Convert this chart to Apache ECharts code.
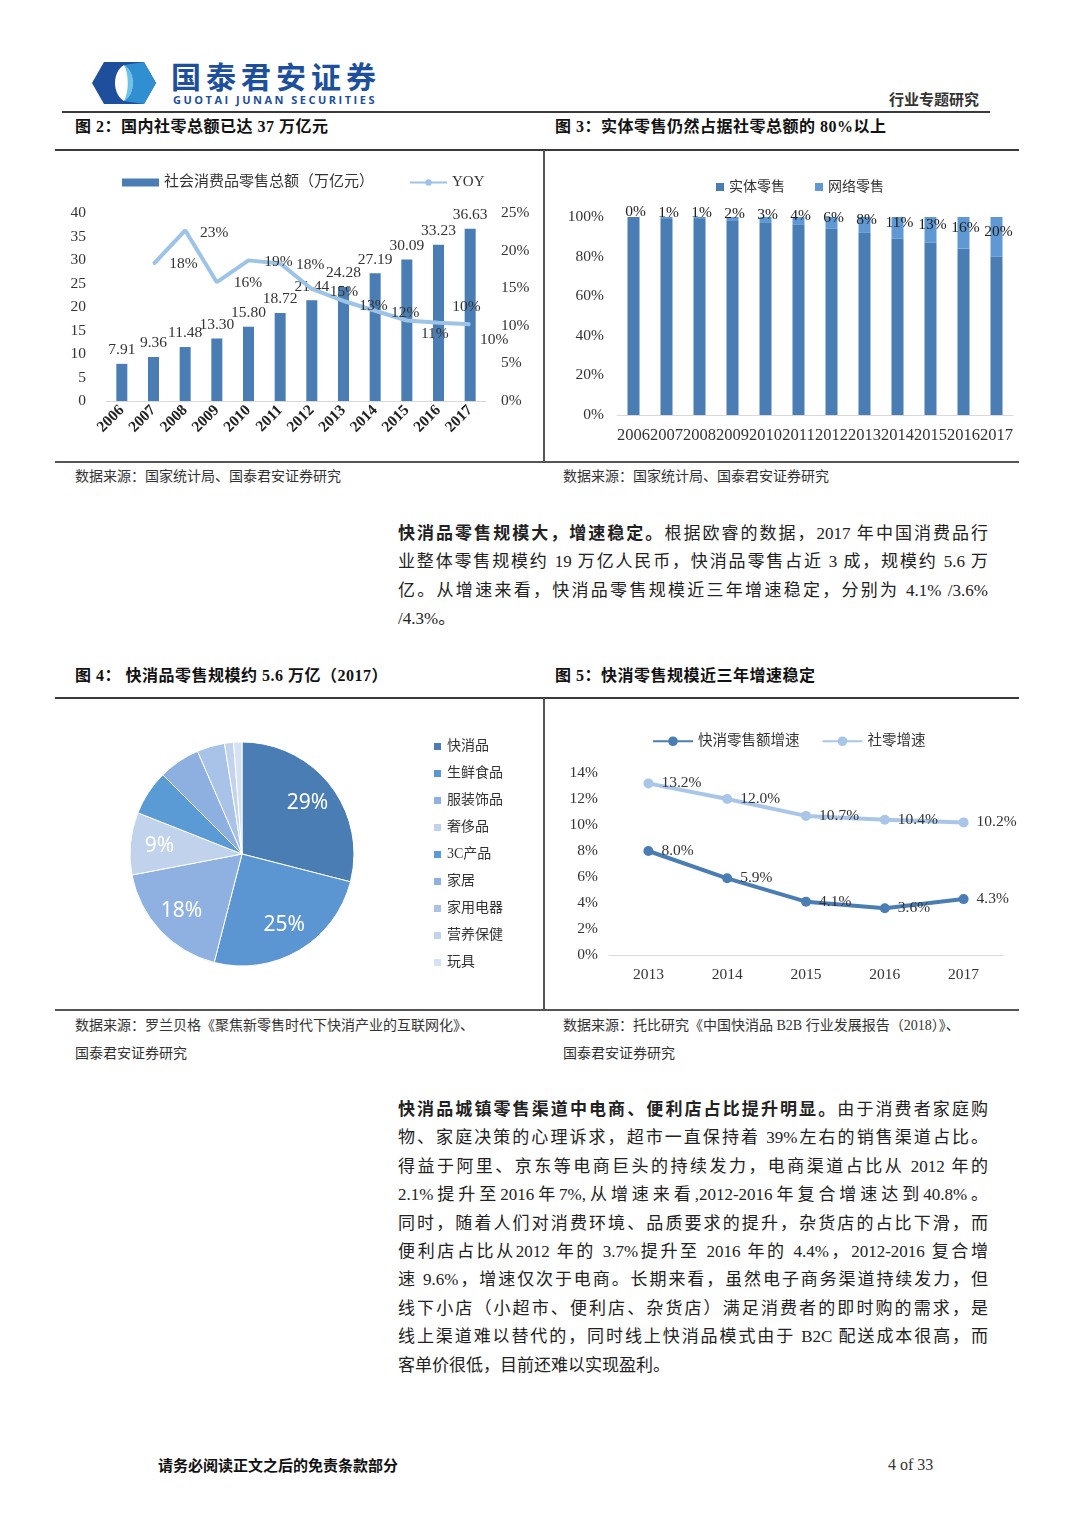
<!DOCTYPE html>
<html><head><meta charset="utf-8">
<script src="https://cdn.jsdelivr.net/npm/echarts@6/dist/echarts.min.js"></script>
<style>
html,body{margin:0;padding:0;background:#fff;}
body{width:1080px;height:1527px;position:relative;overflow:hidden;font-family:'Liberation Serif','Noto Sans CJK SC',serif;color:#222;}
.hl{position:absolute;background:#3a3a3a;}
.title{position:absolute;font-weight:bold;font-size:16px;line-height:20px;color:#111;white-space:nowrap;letter-spacing:0.5px;}
.src{position:absolute;font-size:14px;line-height:18px;color:#333;white-space:nowrap;}
.para{position:absolute;left:398px;width:590px;font-size:17px;color:#222;}
.para div{height:28.4px;line-height:28.4px;text-align:justify;text-align-last:justify;white-space:nowrap;}
.para div.last{text-align-last:left;}
.chart{position:absolute;}
</style></head>
<body>
<!-- header -->
<svg style="position:absolute;left:90px;top:60px" width="68" height="46" viewBox="0 0 68 46">
  <path d="M14,2 L54,2 L66,23 L54,44 L14,44 L2,23 Z" fill="#1d4f9c"/>
  <path d="M34,5 C22,12 22,34 34,41 C46,34 46,12 34,5 Z" fill="#ffffff"/>
  <path d="M34,5 L54,2 L66,23 L54,44 L34,41 C46,34 46,12 34,5 Z" fill="#2f8fd0"/>
  <path d="M34,5 C46,12 46,34 34,41 C39,32 39,14 34,5 Z" fill="#6cc3ea"/>
</svg>
<div style="position:absolute;left:171px;top:59px;font-family:'Noto Sans CJK SC';font-weight:bold;font-size:30px;line-height:32px;color:#1d4f9c;letter-spacing:5px;white-space:nowrap;">国泰君安证券</div>
<div style="position:absolute;left:173px;top:94px;font-family:'Open Sans','Noto Sans';font-weight:bold;font-size:11px;line-height:12px;color:#1d4f9c;letter-spacing:2.5px;white-space:nowrap;">GUOTAI JUNAN SECURITIES</div>
<div style="position:absolute;left:889px;top:89px;font-family:'Noto Sans CJK SC';font-weight:bold;font-size:15px;line-height:20px;color:#333;white-space:nowrap;">行业专题研究</div>
<div class="hl" style="left:62px;top:111px;width:928px;height:2px;"></div>

<!-- figures 2/3 -->
<div class="title" style="left:75px;top:117px;">图 2：国内社零总额已达 37 万亿元</div>
<div class="title" style="left:555px;top:117px;">图 3：实体零售仍然占据社零总额的 80%以上</div>
<div class="hl" style="left:55px;top:149px;width:964px;height:2px;"></div>
<div class="hl" style="left:543px;top:150px;width:1.5px;height:312px;background:#555;"></div>
<div class="hl" style="left:55px;top:461px;width:964px;height:1.5px;background:#555;"></div>
<div id="c1" class="chart" style="left:55px;top:152px;width:488px;height:308px;"></div>
<div id="c2" class="chart" style="left:545px;top:152px;width:475px;height:308px;"></div>
<div class="src" style="left:75px;top:468px;">数据来源：国家统计局、国泰君安证券研究</div>
<div class="src" style="left:563px;top:468px;">数据来源：国家统计局、国泰君安证券研究</div>

<div class="para" style="top:520px;">
<div><b>快消品零售规模大，增速稳定。</b>根据欧睿的数据，2017 年中国消费品行</div>
<div>业整体零售规模约 19 万亿人民币，快消品零售占近 3 成，规模约 5.6 万</div>
<div>亿。从增速来看，快消品零售规模近三年增速稳定，分别为 4.1% /3.6%</div>
<div class="last">/4.3%。</div>
</div>

<!-- figures 4/5 -->
<div class="title" style="left:75px;top:666px;">图 4：&nbsp;快消品零售规模约 5.6 万亿（2017）</div>
<div class="title" style="left:555px;top:666px;">图 5：快消零售规模近三年增速稳定</div>
<div class="hl" style="left:55px;top:697px;width:964px;height:2px;"></div>
<div class="hl" style="left:543px;top:698px;width:1.5px;height:312px;background:#555;"></div>
<div class="hl" style="left:55px;top:1009px;width:964px;height:1.5px;background:#555;"></div>
<div id="c3" class="chart" style="left:55px;top:700px;width:488px;height:308px;"></div>
<div id="c4" class="chart" style="left:545px;top:700px;width:475px;height:308px;"></div>
<div class="src" style="left:75px;top:1017px;">数据来源：罗兰贝格《聚焦新零售时代下快消产业的互联网化》、</div>
<div class="src" style="left:75px;top:1045px;">国泰君安证券研究</div>
<div class="src" style="left:563px;top:1017px;">数据来源：托比研究《中国快消品 B2B 行业发展报告（2018）》、</div>
<div class="src" style="left:563px;top:1045px;">国泰君安证券研究</div>

<div class="para" style="top:1096px;">
<div><b>快消品城镇零售渠道中电商、便利店占比提升明显。</b>由于消费者家庭购</div>
<div>物、家庭决策的心理诉求，超市一直保持着 39%左右的销售渠道占比。</div>
<div>得益于阿里、京东等电商巨头的持续发力，电商渠道占比从 2012 年的</div>
<div>2.1%提升至2016年7%,从增速来看,2012-2016年复合增速达到40.8%。</div>
<div>同时，随着人们对消费环境、品质要求的提升，杂货店的占比下滑，而</div>
<div>便利店占比从2012 年的 3.7%提升至 2016 年的 4.4%，2012-2016 复合增</div>
<div>速 9.6%，增速仅次于电商。长期来看，虽然电子商务渠道持续发力，但</div>
<div>线下小店（小超市、便利店、杂货店）满足消费者的即时购的需求，是</div>
<div>线上渠道难以替代的，同时线上快消品模式由于 B2C 配送成本很高，而</div>
<div class="last">客单价很低，目前还难以实现盈利。</div>
</div>

<div style="position:absolute;left:158px;top:1455px;font-family:'Noto Sans CJK SC';font-weight:bold;font-size:15px;line-height:20px;color:#111;white-space:nowrap;">请务必阅读正文之后的免责条款部分</div>
<div style="position:absolute;left:888px;top:1455px;font-size:16px;line-height:20px;color:#333;white-space:nowrap;">4 of 33</div>

<script>
// ---------- data ----------
const years1 = ['2006','2007','2008','2009','2010','2011','2012','2013','2014','2015','2016','2017'];
const retailTotal = [7.91, 9.36, 11.48, 13.30, 15.80, 18.72, 21.44, 24.28, 27.19, 30.09, 33.23, 36.63];
const retailYoy = [null, 18.2, 22.7, 15.8, 18.7, 18.3, 14.9, 13.3, 12.0, 10.7, 10.4, 10.2];
const years2 = ['2006','2007','2008','2009','2010','2011','2012','2013','2014','2015','2016','2017'];
const physicalShare = [100, 99, 99, 98, 97, 96, 94, 92, 89, 87, 84, 80];
const onlineShare = [0, 1, 1, 2, 3, 4, 6, 8, 11, 13, 16, 20];
const pieNames = ['快消品','生鲜食品','服装饰品','奢侈品','3C产品','家居','家用电器','营养保健','玩具'];
const pieValues = [29, 25, 18, 9, 6.5, 6, 4, 1.3, 1.2];
const years4 = ['2013','2014','2015','2016','2017'];
const fmcgGrowth = [8.0, 5.9, 4.1, 3.6, 4.3];
const retailGrowth = [13.2, 12.0, 10.7, 10.4, 10.2];
const yTicks1 = {min:0, max:40, interval:5};
const yTicks1r = {min:0, max:25, interval:5};

// ---------- styles ----------
const F = "'Liberation Serif','Noto Sans CJK SC',serif";
const dark = '#4a7db3';
const light = '#9dc3e6';
const yoyLabelOffsets = [[0,0],[30,0],[29,3],[31,1],[30,2],[30,2],[32,3],[30,5],[30,2],[28,13],[28,-16],[24,16]];
const pieColors = ['#4a7db3','#5b95d2','#8eb1e1','#c0d2ec','#5b9bd5','#8db0e0','#a9c3e8','#c2d3ee','#d6e1f3'];
const axisText = {fontSize:15.5, color:'#333', fontFamily:F};

// ---------- chart 1 ----------
echarts.init(document.getElementById('c1')).setOption({
  animation:false,
  legend:{left:62, top:18, itemGap:35, itemWidth:37, itemHeight:8,
    textStyle:{fontSize:15, color:'#333', fontFamily:F},
    data:[{name:'社会消费品零售总额（万亿元）', icon:'rect'}, {name:'YOY'}]},
  grid:{left:51, right:57, top:61, bottom:59},
  xAxis:{type:'category', data:years1,
    axisLine:{lineStyle:{color:'#d9d9d9', width:1}}, axisTick:{show:false},
    axisLabel:{rotate:45, interval:0, fontWeight:'bold', fontSize:15.5, color:'#222', fontFamily:F, margin:7}},
  yAxis:[
    {type:'value', min:yTicks1.min, max:yTicks1.max, interval:yTicks1.interval, splitLine:{show:false},
      axisLabel:Object.assign({margin:20}, axisText)},
    {type:'value', min:yTicks1r.min, max:yTicks1r.max, interval:yTicks1r.interval, splitLine:{show:false},
      axisLabel:Object.assign({margin:15, formatter:'{value}%'}, axisText)}
  ],
  series:[
    {type:'bar', name:'社会消费品零售总额（万亿元）', data:retailTotal, barWidth:11,
      itemStyle:{color:dark},
      label:{show:true, position:'top', distance:6, formatter:p=>p.value.toFixed(2), fontSize:15.5, color:'#333', fontFamily:F}},
    {type:'line', name:'YOY', yAxisIndex:1, z:5,
      data:retailYoy.map((v,i)=>({value:v, label:{offset:yoyLabelOffsets[i]}})),
      symbol:'circle', symbolSize:1, showSymbol:true,
      lineStyle:{width:4, color:light}, itemStyle:{color:light},
      label:{show:true, position:'inside', formatter:p=>(p.value==null?'':Math.round(p.value)+'%'), fontSize:15.5, color:'#333', fontFamily:F}}
  ]
});

// ---------- chart 2 ----------
echarts.init(document.getElementById('c2')).setOption({
  animation:false,
  legend:{left:166, top:23, itemGap:30, itemWidth:8, itemHeight:8,
    textStyle:{fontSize:14, color:'#333', fontFamily:F}, data:[{name:'实体零售', icon:'rect'}, {name:'网络零售', icon:'rect'}]},
  grid:{left:72, right:7, top:65, bottom:45},
  xAxis:{type:'category', data:years2,
    axisLine:{lineStyle:{color:'#d9d9d9'}}, axisTick:{show:false},
    axisLabel:{interval:0, margin:12, fontSize:16.5, color:'#333', fontFamily:F}},
  yAxis:{type:'value', min:0, max:100, interval:20, splitLine:{show:false},
    axisLabel:Object.assign({margin:13, formatter:'{value}%'}, axisText)},
  series:[
    {type:'bar', name:'实体零售', stack:'s', data:physicalShare, barWidth:12, itemStyle:{color:'#4a7db3'}},
    {type:'bar', name:'网络零售', stack:'s', data:onlineShare, barWidth:12, itemStyle:{color:'#5f98d2'},
      label:{show:true, position:'inside', offset:[2,-5], formatter:'{c}%', fontSize:15.5, color:'#222', fontFamily:F}}
  ]
});

// ---------- chart 3 ----------
const pieData = pieNames.map((n,i)=>({name:n, value:pieValues[i], itemStyle:{color:pieColors[i]}}));
echarts.init(document.getElementById('c3')).setOption({
  animation:false,
  legend:{orient:'vertical', left:372, top:34, itemGap:12, itemWidth:9, itemHeight:9, icon:'rect',
    textStyle:{fontSize:14, color:'#333', fontFamily:F, lineHeight:15}, data:pieNames},
  series:[
    {type:'pie', center:[187,154], radius:[0,112], startAngle:90, clockwise:true,
      itemStyle:{borderColor:'#fff', borderWidth:1}, label:{show:false}, labelLine:{show:false},
      data:pieData},
    {type:'pie', center:[187,154], radius:[48,112], startAngle:90, clockwise:true, silent:true,
      itemStyle:{color:'rgba(0,0,0,0)', borderWidth:0}, labelLine:{show:false},
      label:{show:true, position:'inside', color:'#fff', fontSize:21, fontFamily:"'Noto Sans','Open Sans',sans-serif",
        formatter:p=>(p.dataIndex<4 ? Math.round(p.value)+'%' : '')},
      data:pieNames.map((n,i)=>({name:n, value:pieValues[i]}))}
  ]
});

// ---------- chart 4 ----------
echarts.init(document.getElementById('c4')).setOption({
  animation:false,
  legend:{left:102, top:29, itemGap:22, itemWidth:40, itemHeight:12,
    textStyle:{fontSize:14.5, color:'#333', fontFamily:F}, data:['快消零售额增速','社零增速']},
  grid:{left:64, right:17, top:73, bottom:53},
  xAxis:{type:'category', data:years4,
    axisLine:{lineStyle:{color:'#d9d9d9'}}, axisTick:{show:false},
    axisLabel:Object.assign({interval:0, margin:12}, axisText)},
  yAxis:{type:'value', min:0, max:14, interval:2, splitLine:{show:false},
    axisLabel:Object.assign({margin:11, formatter:'{value}%'}, axisText)},
  series:[
    {type:'line', name:'快消零售额增速', data:fmcgGrowth, symbol:'circle', symbolSize:10,
      lineStyle:{width:4, color:'#4a7db3'}, itemStyle:{color:'#4a7db3'},
      label:{show:true, position:'right', distance:8, formatter:p=>p.value.toFixed(1)+'%', fontSize:15.5, color:'#333', fontFamily:F}},
    {type:'line', name:'社零增速', data:retailGrowth, symbol:'circle', symbolSize:10,
      lineStyle:{width:4, color:'#a9c6e8'}, itemStyle:{color:'#a9c6e8'},
      label:{show:true, position:'right', distance:8, formatter:p=>p.value.toFixed(1)+'%', fontSize:15.5, color:'#333', fontFamily:F}}
  ]
});
</script>
</body></html>
